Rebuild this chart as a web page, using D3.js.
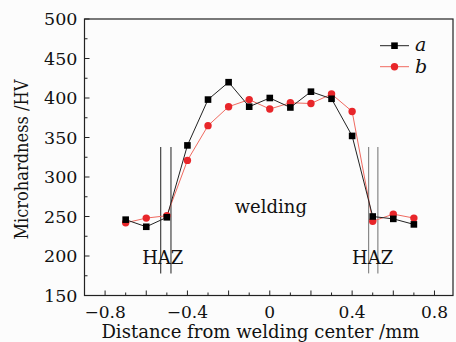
<!DOCTYPE html>
<html>
<head>
<meta charset="utf-8">
<script src="https://cdn.jsdelivr.net/npm/d3@7"></script>
<style>
  body { margin: 0; background: #fcfcfc; }
  svg { display: block; }
  text { font-family: "DejaVu Serif", serif; fill: #111; }
</style>
</head>
<body>
<script>
// positions along the weld (mm)
var distance = [-0.7, -0.6, -0.5, -0.4, -0.3, -0.2, -0.1, 0, 0.1, 0.2, 0.3, 0.4, 0.5, 0.6, 0.7];
var seriesA = [246, 237, 249, 340, 398, 420, 389, 400, 388, 408, 399, 352, 250, 247, 240];
var seriesB = [242, 248, 251, 321, 365, 389, 398, 386, 394, 393, 405, 383, 244, 253, 248];
var hazLines = [-0.53, -0.48, 0.48, 0.525];
var hazLabels = [-0.52, 0.5];
var xTickLabels = [-0.8, -0.4, 0, 0.4, 0.8];
var yTickLabels = [150, 200, 250, 300, 350, 400, 450, 500];

var W = 456, H = 342;
var margin = {top: 19, right: 3, bottom: 46.5, left: 84.5},
    width = W - margin.left - margin.right,
    height = H - margin.top - margin.bottom;

var x = d3.scaleLinear().domain([-0.9, 0.89]).range([0, width]);
var y = d3.scaleLinear().domain([150, 500]).range([height, 0]);

var svg = d3.select("body").append("svg")
    .attr("width", W)
    .attr("height", H)
  .append("g")
    .attr("transform", "translate(" + margin.left + "," + margin.top + ")");

// frame
svg.append("rect")
    .attr("width", width).attr("height", height)
    .attr("fill", "none").attr("stroke", "#222").attr("stroke-width", 1.2);

// x axis, ticks pointing inward
var xMinor = d3.range(-0.8, 0.85, 0.1).map(function(d) { return Math.round(d * 10) / 10; });
svg.append("g").selectAll("line").data(xMinor).enter().append("line")
    .attr("x1", function(d) { return x(d); })
    .attr("x2", function(d) { return x(d); })
    .attr("y1", height)
    .attr("y2", function(d) { return Math.abs(Math.round(d * 10)) % 2 == 0 ? height - 5 : height - 3; })
    .attr("stroke", "#222");

svg.append("g").selectAll("text").data(xTickLabels).enter().append("text")
    .attr("x", function(d) { return x(d); })
    .attr("y", height + 22.5)
    .attr("text-anchor", "middle")
    .style("font-size", "17px")
    .text(function(d) { return d == 0 ? "0" : (d < 0 ? "\u2212" : "") + Math.abs(d).toFixed(1); });

// y axis
var yMinor = d3.range(150, 501, 25);
svg.append("g").selectAll("line").data(yMinor).enter().append("line")
    .attr("x1", 0)
    .attr("x2", function(d) { return d % 50 == 0 ? 5 : 3; })
    .attr("y1", function(d) { return y(d); })
    .attr("y2", function(d) { return y(d); })
    .attr("stroke", "#222");

svg.append("g").selectAll("text").data(yTickLabels).enter().append("text")
    .attr("x", -7)
    .attr("y", function(d) { return y(d); })
    .attr("dy", "0.36em")
    .attr("text-anchor", "end")
    .style("font-size", "17.5px")
    .text(function(d) { return d; });

// axis titles
svg.append("text")
    .attr("x", x(-0.0456))
    .attr("y", height + 42)
    .attr("text-anchor", "middle")
    .attr("textLength", 318)
    .attr("lengthAdjust", "spacingAndGlyphs")
    .style("font-size", "18px")
    .text("Distance from welding center /mm");

svg.append("text")
    .attr("transform", "translate(" + (-57) + "," + y(322) + ") rotate(-90)")
    .attr("text-anchor", "middle")
    .attr("textLength", 160)
    .attr("lengthAdjust", "spacingAndGlyphs")
    .style("font-size", "18px")
    .text("Microhardness /HV");

// HAZ boundaries
svg.append("g").selectAll("line").data(hazLines).enter().append("line")
    .attr("x1", function(d) { return x(d); })
    .attr("x2", function(d) { return x(d); })
    .attr("y1", y(338))
    .attr("y2", y(178))
    .attr("stroke", function(d) { return d < 0 ? "#444" : "#888"; })
    .attr("stroke-width", 1.2);

svg.append("g").selectAll("text").data(hazLabels).enter().append("text")
    .attr("x", function(d) { return x(d); })
    .attr("y", y(190))
    .attr("text-anchor", "middle")
    .style("font-size", "18px")
    .text("HAZ");

svg.append("text")
    .attr("x", x(0.005))
    .attr("y", y(254))
    .attr("text-anchor", "middle")
    .style("font-size", "18px")
    .text("welding");

// series
var rows = distance.map(function(d, i) { return {d: d, a: seriesA[i], b: seriesB[i]}; });

var lineA = d3.line().x(function(r) { return x(r.d); }).y(function(r) { return y(r.a); });
var lineB = d3.line().x(function(r) { return x(r.d); }).y(function(r) { return y(r.b); });

svg.append("path").datum(rows)
    .attr("d", lineB).attr("fill", "none")
    .attr("stroke", "#f06a60").attr("stroke-width", 1);
svg.append("path").datum(rows)
    .attr("d", lineA).attr("fill", "none")
    .attr("stroke", "#222").attr("stroke-width", 1);

svg.append("g").selectAll("circle").data(rows).enter().append("circle")
    .attr("cx", function(r) { return x(r.d); })
    .attr("cy", function(r) { return y(r.b); })
    .attr("r", 3.7)
    .attr("fill", "#e8262a");

svg.append("g").selectAll("rect").data(rows).enter().append("rect")
    .attr("x", function(r) { return x(r.d) - 3.3; })
    .attr("y", function(r) { return y(r.a) - 3.3; })
    .attr("width", 6.6).attr("height", 6.6)
    .attr("fill", "#000");

// legend
var legend = svg.append("g").attr("transform", "translate(" + (380 - margin.left) + "," + (45.7 - margin.top) + ")");
legend.append("line").attr("x1", 0).attr("x2", 29).attr("y1", 0).attr("y2", 0).attr("stroke", "#222");
legend.append("rect").attr("x", 11.2).attr("y", -3.3).attr("width", 6.6).attr("height", 6.6).attr("fill", "#000");
legend.append("text").attr("x", 35).attr("y", 5.5).style("font-size", "19px").style("font-style", "italic").text("a");
legend.append("line").attr("x1", 0).attr("x2", 29).attr("y1", 21).attr("y2", 21).attr("stroke", "#f06a60");
legend.append("circle").attr("cx", 14.5).attr("cy", 21).attr("r", 3.7).attr("fill", "#e8262a");
legend.append("text").attr("x", 35).attr("y", 27.5).style("font-size", "19px").style("font-style", "italic").text("b");
</script>
</body>
</html>
